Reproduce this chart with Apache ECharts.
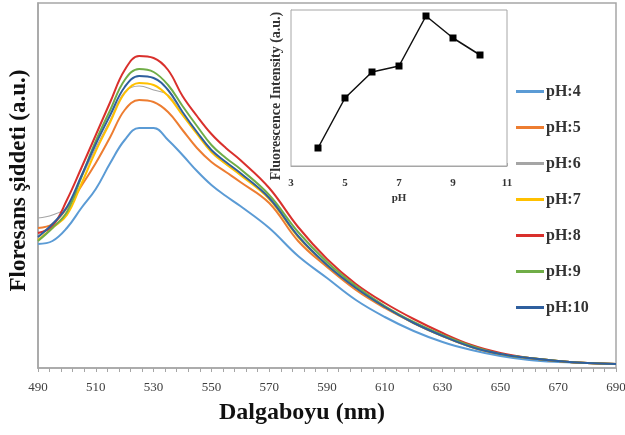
<!DOCTYPE html>
<html>
<head>
<meta charset="utf-8">
<script src="https://cdn.jsdelivr.net/npm/echarts@6/dist/echarts.min.js"></script>
<style>
  html, body { margin: 0; background: #fff; }
  #chart { width: 625px; height: 435px; }
</style>
</head>
<body>
<div id="chart"></div>
<script>
// emission spectra, intensity in arbitrary units
const wavelengths = [490, 495, 500, 505, 510, 515, 520, 525, 530, 535, 540, 545, 550, 555, 560, 570, 580, 590, 600, 610, 620, 630, 640, 650, 660, 670, 680, 690];
const ph4  = [124, 127, 140, 160, 179, 205, 228, 240, 240, 228, 213, 197, 183, 172, 162, 140, 112, 90, 68, 51, 37, 26, 18, 12, 8, 6, 5, 4];
const ph5  = [140, 144, 160, 182, 205, 231, 258, 268, 266, 256, 238, 220, 206, 196, 186, 165, 127, 101, 78, 60, 45, 32, 21, 14, 10, 7, 5, 4];
const ph6  = [150, 153, 161, 190, 220, 248, 276, 282, 278, 273, 253, 235, 216, 204, 194, 170, 132, 103, 80, 61, 45, 32, 21, 14, 10, 7, 5, 4];
const ph7  = [128, 140, 153, 184, 217, 246, 275, 285, 283, 272, 253, 234, 216, 204, 193, 169, 131, 103, 80, 61, 45, 32, 21, 14, 10, 7, 5, 4];
const ph8  = [135, 142, 168, 200, 233, 266, 298, 312, 310, 298, 272, 252, 234, 220, 208, 180, 141, 109, 84, 65, 49, 35, 23, 15, 10, 7, 5, 4];
const ph9  = [127, 140, 156, 191, 227, 258, 288, 299, 296, 283, 262, 242, 223, 210, 199, 173, 136, 106, 82, 62, 46, 33, 22, 14, 10, 7, 5, 4];
const ph10 = [131, 144, 161, 192, 224, 253, 281, 292, 290, 278, 256, 236, 218, 206, 195, 170, 132, 103, 80, 61, 45, 32, 21, 14, 10, 7, 5, 4];

const names = ["pH:4", "pH:5", "pH:6", "pH:7", "pH:8", "pH:9", "pH:10"];
const colors = ["#5b9bd5", "#ed7d31", "#a5a5a5", "#ffc000", "#d9302c", "#70ad47", "#2f5f9e"];

// inset: peak intensity vs pH
const insetPh = [4, 5, 6, 7, 8, 9, 10];
const insetIntensity = [18, 68, 94, 100, 150, 128, 111];

const serif = "'Liberation Serif', 'Times New Roman', serif";

let myChart = echarts.init(document.getElementById("chart"));

let spectra = [ph4, ph5, ph6, ph7, ph8, ph9, ph10].map((vals, i) => {
  return {
    name: names[i],
    type: "line",
    xAxisIndex: 0,
    yAxisIndex: 0,
    symbol: "none",
    smooth: 0.4,
    color: colors[i],
    lineStyle: { width: i === 2 ? 1.2 : 2, color: colors[i] },
    data: wavelengths.map((w, k) => [w, vals[k]])
  };
});

let option = {
  backgroundColor: "#fff",
  animation: false,
  grid: [
    { left: 38, right: 9, top: 3, bottom: 67, outerBoundsMode: "none", show: true, borderColor: "#a6a6a6", borderWidth: 1.5 },
    { left: 291, right: 118, top: 10, bottom: 269, outerBoundsMode: "none", show: true, borderColor: "#a6a6a6", borderWidth: 1, backgroundColor: "#fff", z: 5 }
  ],
  legend: {
    orient: "vertical",
    left: 516,
    top: 83,
    padding: 0,
    icon: "rect",
    itemWidth: 28,
    itemHeight: 3,
    itemGap: 19,
    selectedMode: false,
    data: names,
    textStyle: { fontFamily: serif, fontWeight: "bold", fontSize: 16, color: "#333", lineHeight: 17, padding: [0, 0, 0, -3] }
  },
  xAxis: [
    {
      gridIndex: 0,
      type: "value",
      min: 490,
      max: 690,
      interval: 20,
      name: "Dalgaboyu (nm)",
      nameLocation: "middle",
      nameGap: 33,
      nameTextStyle: { fontFamily: serif, fontWeight: "bold", fontSize: 24, color: "#111", padding: [0, 50, 0, 0] },
      axisLine: { lineStyle: { color: "#a6a6a6", width: 1.5 } },
      axisTick: { length: 4, lineStyle: { color: "#a6a6a6" } },
      minorTick: { show: true, splitNumber: 5, length: 4, lineStyle: { color: "#a6a6a6" } },
      splitLine: { show: false },
      axisLabel: { fontFamily: serif, fontSize: 13, color: "#404040", margin: 13 }
    },
    {
      gridIndex: 1,
      type: "value",
      min: 3,
      max: 11,
      interval: 2,
      name: "pH",
      nameLocation: "middle",
      nameGap: 27,
      nameTextStyle: { fontFamily: serif, fontWeight: "bold", fontSize: 11, color: "#333" },
      axisLine: { lineStyle: { color: "#a6a6a6" } },
      axisTick: { inside: true, length: 3, lineStyle: { color: "#a6a6a6" } },
      minorTick: { show: true, splitNumber: 5, length: 2, lineStyle: { color: "#a6a6a6" } },
      splitLine: { show: false },
      axisLabel: { fontFamily: serif, fontWeight: "bold", fontSize: 11, color: "#333", margin: 12 }
    }
  ],
  yAxis: [
    {
      gridIndex: 0,
      type: "value",
      min: 0,
      max: 365,
      name: "Floresans şiddeti (a.u.)",
      nameLocation: "middle",
      nameGap: 7,
      nameTextStyle: { fontFamily: serif, fontWeight: "bold", fontSize: 23, color: "#111", padding: [0, 0, 0, 10] },
      axisLine: { show: true, lineStyle: { color: "#a6a6a6", width: 1.5 } },
      axisTick: { show: false },
      axisLabel: { show: false },
      splitLine: { show: false }
    },
    {
      gridIndex: 1,
      type: "value",
      min: 0,
      max: 156,
      name: "Fluorescence Intensity (a.u.)",
      nameLocation: "middle",
      nameGap: 8,
      nameTextStyle: { fontFamily: serif, fontWeight: "bold", fontSize: 14, color: "#333", padding: [0, 16, 0, 0] },
      axisLine: { show: true, lineStyle: { color: "#a6a6a6" } },
      axisTick: { show: false },
      axisLabel: { show: false },
      splitLine: { show: false }
    }
  ],
  series: spectra.concat([
    {
      name: "inset",
      type: "line",
      xAxisIndex: 1,
      yAxisIndex: 1,
      z: 6,
      symbol: "rect",
      symbolSize: 7,
      color: "#000",
      lineStyle: { width: 1.5, color: "#111" },
      itemStyle: { color: "#000" },
      data: insetPh.map((p, k) => [p, insetIntensity[k]])
    }
  ])
};
myChart.setOption(option);
</script>
</body>
</html>
